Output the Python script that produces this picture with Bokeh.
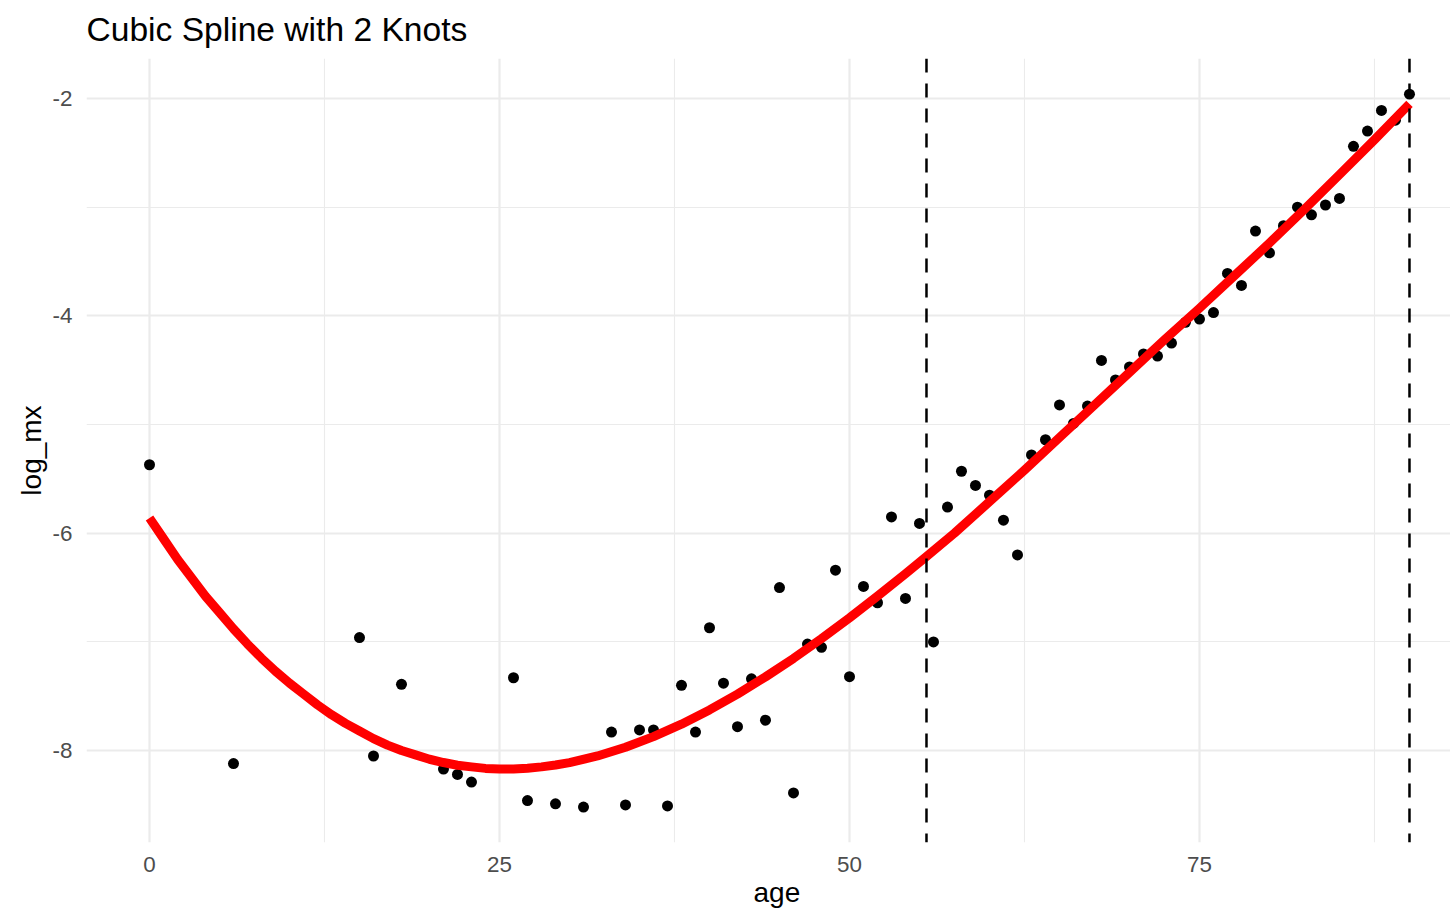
from bokeh.plotting import figure
from bokeh.models import Span, Title, FixedTicker, Range1d, ColumnDataSource, CustomJSTickFormatter
from bokeh.embed import file_html
from bokeh.resources import INLINE

# ---- data ----
ages = [0, 6, 15, 16, 18, 21, 22, 23, 26, 27, 29, 31, 33, 34, 35, 36, 37,
        38, 39, 40, 41, 42, 43, 44, 45, 46, 47, 48, 49, 50, 51, 52, 53, 54,
        55, 56, 57, 58, 59, 60, 61, 62, 63, 64, 65, 66, 67, 68, 69, 70, 71,
        72, 73, 74, 75, 76, 77, 78, 79, 80, 81, 82, 83, 84, 85, 86, 87, 88,
        89, 90]
log_mx = [-5.37, -8.12, -6.96, -8.05, -7.39, -8.17, -8.22, -8.29, -7.33, -8.46,
          -8.49, -8.52, -7.83, -8.50, -7.81, -7.81, -8.51,
          -7.40, -7.83, -6.87, -7.38, -7.78, -7.34, -7.72, -6.50, -8.39, -7.02,
          -7.05, -6.34, -7.32, -6.49, -6.64, -5.85, -6.60,
          -5.91, -7.00, -5.76, -5.43, -5.56, -5.65, -5.88, -6.20, -5.28, -5.14,
          -4.82, -4.99, -4.83, -4.41, -4.59, -4.47, -4.35,
          -4.37, -4.25, -4.06, -4.03, -3.97, -3.61, -3.72, -3.22, -3.42, -3.17,
          -3.00, -3.07, -2.98, -2.92, -2.44, -2.30, -2.11,
          -2.20, -1.96]

# fitted spline
fit_age = [0, 1, 2, 3, 4, 5, 6, 7, 8, 9, 10, 11, 12, 13, 14, 15, 16, 17, 18,
           19, 20, 21, 22, 23, 24, 25, 26, 27, 28, 29, 30, 32, 34, 36, 38, 40,
           42, 44, 46, 48, 50, 52, 54, 55.5, 57.5, 60, 62.5, 65, 67.5, 70,
           72.5, 75, 77.5, 80, 82.5, 85, 87.5, 90]
fit_log_mx = [-5.86, -6.05, -6.24, -6.41, -6.58, -6.73, -6.88, -7.02, -7.15,
              -7.27, -7.38, -7.48, -7.58, -7.67, -7.75, -7.82, -7.89, -7.95,
              -8.00, -8.04, -8.08, -8.11, -8.135, -8.15, -8.164, -8.169,
              -8.169, -8.162, -8.15, -8.133, -8.111, -8.05, -7.97, -7.872,
              -7.757, -7.626, -7.481, -7.322, -7.152, -6.97, -6.779, -6.579,
              -6.373, -6.215, -5.999, -5.71, -5.42, -5.12, -4.82, -4.52,
              -4.22, -3.93, -3.63, -3.33, -3.02, -2.70, -2.38, -2.05]

knots = [55.5, 90]

x_ticks = [0, 25, 50, 75]
x_minor = [12.5, 37.5, 62.5, 87.5]
y_ticks = [-8, -6, -4, -2]
y_minor = [-7, -5, -3]

title_text = "Cubic Spline with 2 Knots"
x_title = "age"
y_title = "log_mx"

FONT = "Liberation Sans"

p = figure(width=1450, height=916, output_backend="svg", toolbar_location=None,
           x_range=Range1d(-4.5, 92.93), y_range=Range1d(-8.846, -1.632),
           min_border_left=86, min_border_right=0, min_border_top=58,
           min_border_bottom=74)

p.outline_line_color = None
p.background_fill_color = "white"
p.border_fill_color = "white"

p.title.text = title_text
p.title.text_font = FONT
p.title.text_font_size = "33.6px"
p.title.text_font_style = "normal"
p.title.text_color = "black"
p.title.align = "left"
p.title.vertical_align = "top"
p.title.standoff = 18

# axes
for ax in (p.xaxis, p.yaxis):
    ax.axis_line_color = None
    ax.major_tick_line_color = None
    ax.minor_tick_line_color = None
    ax.major_tick_out = 0
    ax.major_tick_in = 0
    ax.minor_tick_out = 0
    ax.minor_tick_in = 0
    ax.major_label_text_font = FONT
    ax.major_label_text_font_size = "22.4px"
    ax.major_label_text_color = "#4D4D4D"
    ax.formatter = CustomJSTickFormatter(code="return tick.toString();")

p.xaxis.ticker = FixedTicker(ticks=x_ticks, minor_ticks=x_minor)
p.yaxis.ticker = FixedTicker(ticks=y_ticks, minor_ticks=y_minor)
p.xaxis.major_label_standoff = 14
p.yaxis.major_label_standoff = 14

p.yaxis.axis_label = y_title
p.yaxis.axis_label_text_font = FONT
p.yaxis.axis_label_text_font_size = "28px"
p.yaxis.axis_label_text_font_style = "normal"
p.yaxis.axis_label_text_color = "black"
p.yaxis.axis_label_standoff = 3

# grid
for g in (p.xgrid, p.ygrid):
    g.grid_line_color = "#EBEBEB"
    g.grid_line_width = 2.2
    g.minor_grid_line_color = "#EBEBEB"
    g.minor_grid_line_width = 1.1

# points
src = ColumnDataSource(dict(age=ages, log_mx=log_mx))
p.scatter("age", "log_mx", source=src, size=11, color="black", line_width=0)

# fitted spline
fit_src = ColumnDataSource(dict(age=fit_age, log_mx=fit_log_mx))
p.line("age", "log_mx", source=fit_src, line_color="#FF0000", line_width=9,
       line_cap="butt", line_join="round")

# knots
for k in knots:
    p.add_layout(Span(location=k, dimension="height", line_color="black",
                      line_width=2.5, line_dash="14 11"))

# x-axis title, placed as in the reference
p.add_layout(Title(text=x_title, align="left", offset=667, standoff=0,
                   text_font=FONT, text_font_size="28px",
                   text_font_style="normal", text_color="black"), "below")

open("out.html", "w").write(file_html(p, INLINE))
